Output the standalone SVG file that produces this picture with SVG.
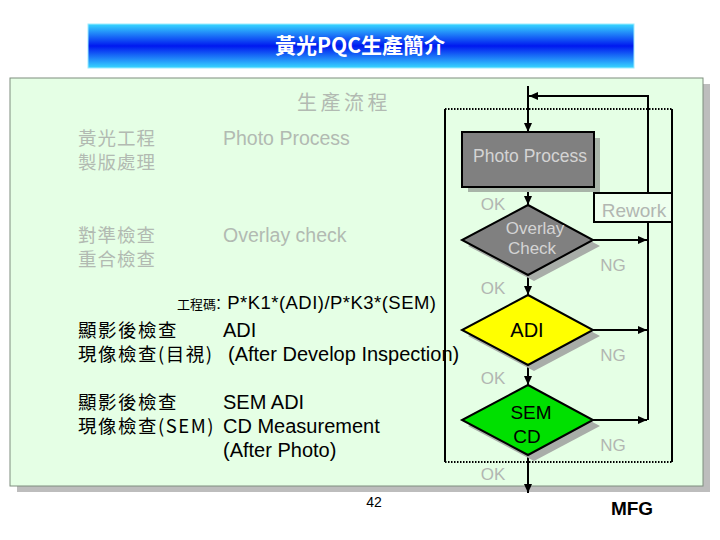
<svg xmlns="http://www.w3.org/2000/svg" width="720" height="540" viewBox="0 0 720 540">
<style>
.cjk{font-family:"Noto Sans CJK TC","Noto Sans CJK SC",sans-serif;}
.lat{font-family:"Liberation Sans",Arial,sans-serif;}
.gray{fill:#B2BAB2;}
.blk{fill:#000;}
.ln{stroke:#000;stroke-width:2;fill:none;}
.dot{stroke:#000;stroke-width:2;stroke-dasharray:1.5 1.5;fill:none;}
.shd{fill:#A8ADA8;}
.lbl{font-family:"Liberation Sans",Arial,sans-serif;font-size:17px;fill:#B2B6B2;text-anchor:middle;}
</style>
<defs>
<linearGradient id="tg" x1="0" y1="0" x2="0" y2="1">
<stop offset="0" stop-color="#38D8FF"/>
<stop offset="0.5" stop-color="#0018F0"/>
<stop offset="1" stop-color="#38D8FF"/>
</linearGradient>
<marker id="ah" markerUnits="userSpaceOnUse" markerWidth="10" markerHeight="8" refX="9" refY="4" orient="auto">
<path d="M0,0 L9,4 L0,8 Z" fill="#000"/>
</marker>
</defs>
<rect width="720" height="540" fill="#fff"/>
<g id="title">
<rect x="88" y="24" width="546" height="44" fill="url(#tg)" stroke="#9EEBFF" stroke-width="1"/>
<text x="360" y="53" class="cjk" font-size="21" font-weight="bold" fill="#fff" text-anchor="middle">黃光PQC生產簡介</text>
</g>
<g id="panel">
<rect x="17" y="84" width="693" height="408" fill="#BDBDBD"/>
<rect x="10" y="78" width="693" height="408" fill="#E5FFE5" stroke="#7E8E7E" stroke-width="1"/>
</g>
<g id="left-text">
<text x="297" y="110" class="cjk gray" font-size="20" letter-spacing="3.5">生產流程</text>
<text x="78" y="145" class="cjk gray" font-size="18.5" letter-spacing="1">黃光工程</text>
<text x="78" y="169" class="cjk gray" font-size="18.5" letter-spacing="1">製版處理</text>
<text x="223" y="145" class="lat gray" font-size="19.5">Photo Process</text>
<text x="78" y="242" class="cjk gray" font-size="18.5" letter-spacing="1">對準檢查</text>
<text x="78" y="266" class="cjk gray" font-size="18.5" letter-spacing="1">重合檢查</text>
<text x="223" y="242" class="lat gray" font-size="19.5">Overlay check</text>
<text x="177" y="309" class="blk"><tspan class="cjk" font-size="13">工程碼</tspan><tspan class="lat" font-size="18.5" textLength="220" lengthAdjust="spacing">: P*K1*(ADI)/P*K3*(SEM)</tspan></text>
<text x="78" y="337" class="cjk blk" font-size="18.5" letter-spacing="1.5">顯影後檢查</text>
<text x="223" y="337" class="lat blk" font-size="20">ADI</text>
<text x="78" y="361" class="cjk blk" font-size="18.5" letter-spacing="1.5">現像檢查(目視)</text>
<text x="228" y="361" class="lat blk" font-size="20">(After Develop Inspection)</text>
<text x="78" y="409" class="cjk blk" font-size="18.5" letter-spacing="1.5">顯影後檢查</text>
<text x="223" y="409" class="lat blk" font-size="20">SEM ADI</text>
<text x="78" y="433" class="cjk blk" font-size="18.5" letter-spacing="1.5">現像檢查(SEM)</text>
<text x="223" y="433" class="lat blk" font-size="20">CD Measurement</text>
<text x="223" y="457" class="lat blk" font-size="20">(After Photo)</text>
</g>
<g id="connectors">
<path class="dot" d="M445,109 H672"/>
<path class="dot" d="M445,462 H672"/>
<path class="ln" d="M445,109 V462"/>
<path class="ln" d="M672,109 V193"/>
<path class="ln" d="M672,222 V462"/>
<path class="ln" d="M528,86 V132" marker-end="url(#ah)"/>
<path class="ln" d="M648,193 V96 H529" marker-end="url(#ah)"/>
<path class="ln" d="M648,222 V420"/>
<path class="ln" d="M528,187 V205" marker-end="url(#ah)"/>
<path class="ln" d="M528,275 V295" marker-end="url(#ah)"/>
<path class="ln" d="M528,365 V385" marker-end="url(#ah)"/>
<path class="ln" d="M528,455 V493" marker-end="url(#ah)"/>
<path class="ln" d="M593,240 H647" marker-end="url(#ah)"/>
<path class="ln" d="M593,330 H647" marker-end="url(#ah)"/>
<path class="ln" d="M593,420 H647" marker-end="url(#ah)"/>
<text x="493" y="210" class="lbl">OK</text>
<text x="493" y="294" class="lbl">OK</text>
<text x="493" y="384" class="lbl">OK</text>
<text x="493" y="480" class="lbl">OK</text>
<text x="613" y="271" class="lbl">NG</text>
<text x="613" y="361" class="lbl">NG</text>
<text x="613" y="451" class="lbl">NG</text>
</g>
<g id="photo-process">
<rect x="468" y="138" width="132" height="54" fill="#A8B4A8"/>
<rect x="462" y="132" width="132" height="55" fill="#808080" stroke="#000" stroke-width="2"/>
<text x="530" y="162" class="lat" font-size="17.5" fill="#D4D4D4" text-anchor="middle">Photo Process</text>
</g>
<g id="rework">
<rect x="594" y="193" width="78" height="29" fill="#EEFFEE" stroke="#000" stroke-width="2"/>
<text x="634" y="217" class="lat" font-size="19" fill="#B2B6B2" text-anchor="middle">Rework</text>
</g>
<g id="overlay-check">
<polygon class="shd" points="534,211 600,246 534,281 468,246"/>
<polygon points="528,205 593,240 528,275 462,240" fill="#808080" stroke="#000" stroke-width="2"/>
<text x="535" y="234" class="lat" font-size="17" fill="#D4D4D4" text-anchor="middle">Overlay</text>
<text x="532" y="254" class="lat" font-size="17" fill="#D4D4D4" text-anchor="middle">Check</text>
</g>
<g id="adi">
<polygon class="shd" points="534,301 600,336 534,371 468,336"/>
<polygon points="528,295 593,330 528,365 462,330" fill="#FFFF00" stroke="#000" stroke-width="2"/>
<text x="527" y="337" class="lat" font-size="20" fill="#000" text-anchor="middle">ADI</text>
</g>
<g id="sem-cd">
<polygon class="shd" points="534,391 600,426 534,461 468,426"/>
<polygon points="528,385 593,420 528,455 462,420" fill="#00E000" stroke="#000" stroke-width="2"/>
<text x="531" y="419" class="lat" font-size="19" fill="#000" text-anchor="middle">SEM</text>
<text x="527" y="443" class="lat" font-size="19" fill="#000" text-anchor="middle">CD</text>
</g>
<g id="footer">
<text x="374" y="507" class="lat" font-size="14" fill="#000" text-anchor="middle">42</text>
<text x="632" y="515" class="lat" font-size="19" font-weight="bold" fill="#000" text-anchor="middle">MFG</text>
</g>
</svg>
